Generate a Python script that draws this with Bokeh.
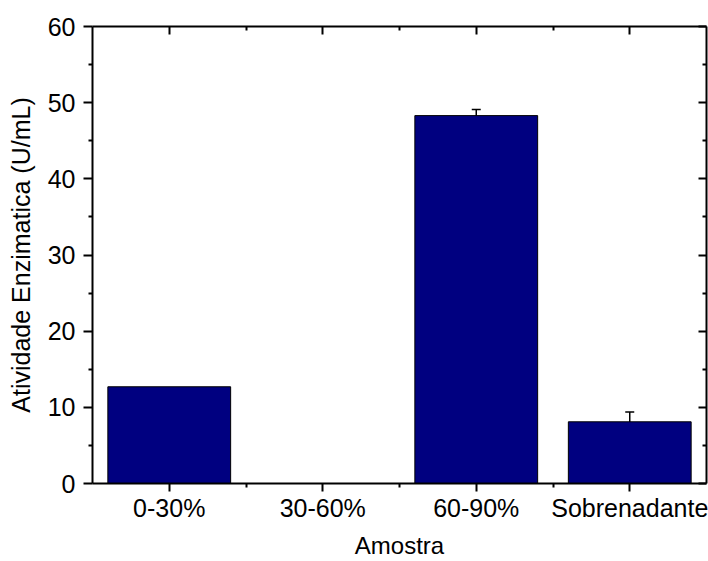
from bokeh.plotting import figure
from bokeh.models import (ColumnDataSource, Whisker, TeeHead, LinearAxis, FixedTicker,
                          Range1d, CustomJSTickFormatter)
from bokeh.embed import file_html
from bokeh.resources import INLINE

categories = ["0-30%", "30-60%", "60-90%", "Sobrenadante"]
activity = [12.7, 0.0, 48.3, 8.1]
errors = [0.0, 0.0, 0.8, 1.3]
y_ticks = [0, 10, 20, 30, 40, 50, 60]

x_pos = list(range(1, len(categories) + 1))
FONT = "Liberation Sans"

p = figure(width=708, height=561, output_backend="svg", toolbar_location=None,
           x_range=Range1d(0.5, len(categories) + 0.5), y_range=Range1d(0, 60),
           min_border_left=92, min_border_right=2, min_border_top=26, min_border_bottom=78)
p.xaxis.visible = False
p.yaxis.visible = False
p.grid.visible = False
p.outline_line_color = None
p.background_fill_color = "white"
p.border_fill_color = "white"

src = ColumnDataSource(dict(x=x_pos, top=activity))
p.vbar(x="x", top="top", width=0.8, bottom=0, source=src,
       fill_color="#000080", line_color="black", line_width=1)

ex = [x for x, e in zip(x_pos, errors) if e > 0]
ev = [v for v, e in zip(activity, errors) if e > 0]
ee = [e for e in errors if e > 0]
esrc = ColumnDataSource(dict(x=ex, upper=[v + e for v, e in zip(ev, ee)],
                             lower=[v - e for v, e in zip(ev, ee)]))
p.add_layout(Whisker(base="x", upper="upper", lower="lower", source=esrc,
                     line_color="black", line_width=1.5,
                     upper_head=TeeHead(size=9, line_color="black", line_width=1.5),
                     lower_head=TeeHead(size=9, line_color="black", line_width=1.5)))

xticker = FixedTicker(ticks=x_pos, minor_ticks=[x + 0.5 for x in x_pos[:-1]])
yticker = FixedTicker(ticks=y_ticks, minor_ticks=[t + 5 for t in y_ticks[:-1]])

def style(ax):
    ax.axis_line_width = 2
    ax.axis_line_color = "black"
    ax.major_tick_line_width = 2
    ax.minor_tick_line_width = 2
    ax.major_tick_line_color = "black"
    ax.minor_tick_line_color = "black"
    ax.major_label_text_font = FONT
    ax.major_label_text_font_size = "25px"
    ax.major_label_text_color = "black"
    ax.axis_label_text_font = FONT
    ax.axis_label_text_font_size = "25px"
    ax.axis_label_text_font_style = "normal"
    ax.axis_label_text_color = "black"

xb = LinearAxis(ticker=xticker, axis_label="Amostra",
                major_label_overrides={x: c for x, c in zip(x_pos, categories)})
style(xb)
xb.axis_label_text_font_size = "24px"
xb.major_tick_out = 8; xb.major_tick_in = 0
xb.minor_tick_out = 4; xb.minor_tick_in = 0
xb.major_label_standoff = 2
xb.axis_label_standoff = 7
p.add_layout(xb, "below")

yl = LinearAxis(ticker=yticker, axis_label="Atividade Enzimatica (U/mL)")
style(yl)
yl.major_tick_out = 9; yl.major_tick_in = 0
yl.minor_tick_out = 4; yl.minor_tick_in = 0
yl.major_label_standoff = 8
yl.axis_label_standoff = 10
p.add_layout(yl, "left")

blank = CustomJSTickFormatter(code="return ''")

xt = LinearAxis(ticker=xticker, formatter=blank)
style(xt)
xt.major_tick_out = 0; xt.major_tick_in = 8
xt.minor_tick_out = 0; xt.minor_tick_in = 4
xt.major_label_standoff = 0
p.add_layout(xt, "above")

yr = LinearAxis(ticker=yticker, formatter=blank)
style(yr)
yr.major_tick_out = 0; yr.major_tick_in = 8
yr.minor_tick_out = 0; yr.minor_tick_in = 4
yr.major_label_standoff = 0
p.add_layout(yr, "right")

open("out.html", "w").write(file_html(p, INLINE))
